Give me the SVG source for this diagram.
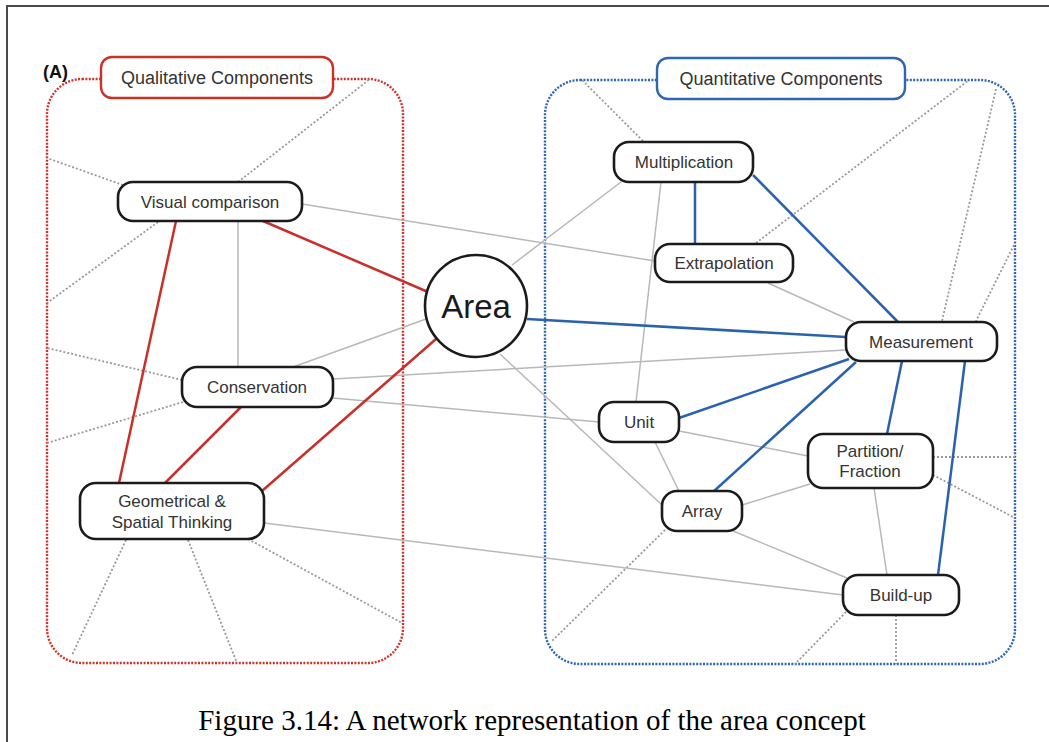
<svg xmlns="http://www.w3.org/2000/svg" width="1049" height="742" viewBox="0 0 1049 742">
  <style>
    .frame { stroke: #4a4a4a; stroke-width: 2; fill: none; }
    .cont-red { fill: none; stroke: #d0332c; stroke-width: 2.4; stroke-dasharray: 2 1.4; }
    .cont-blue { fill: none; stroke: #2d67b4; stroke-width: 2.4; stroke-dasharray: 2 1.4; }
    .head-red { fill: #fff; stroke: #cc3128; stroke-width: 2.4; }
    .head-blue { fill: #fff; stroke: #2d67b4; stroke-width: 2.4; }
    .node { fill: #fff; stroke: #1b1b1b; stroke-width: 2.6; }
    .lbl { font-family: "Liberation Sans", Arial, sans-serif; font-size: 17px; fill: #333; text-anchor: middle; }
    .head { font-family: "Liberation Sans", Arial, sans-serif; font-size: 18px; fill: #333; text-anchor: middle; }
    .red { stroke: #c8302a; stroke-width: 2.5; }
    .blue { stroke: #2a62ae; stroke-width: 2.5; }
    .gray { stroke: #b8b8b8; stroke-width: 1.5; }
    .dot { stroke: #9a9a9a; stroke-width: 1.8; stroke-dasharray: 2 2; }
  </style>

  <rect width="1049" height="742" fill="#fff"/>

  <!-- page frame -->
  <path class="frame" d="M7 742 V6 H1049"/>

  <text x="43" y="78" font-family="Liberation Sans, Arial, sans-serif" font-size="18" font-weight="bold" fill="#111">(A)</text>

  <!-- component containers -->
  <g id="qualitative-container">
    <rect class="cont-red" x="47" y="79" width="356" height="584" rx="35"/>
  </g>
  <g id="quantitative-container">
    <rect class="cont-blue" x="545" y="80" width="470" height="584" rx="35"/>
  </g>

  <g id="connectors" fill="none">
    <!-- outward links to the container edges -->
    <line class="dot" x1="238" y1="182" x2="370" y2="79"/>
    <line class="dot" x1="123" y1="185" x2="47" y2="158"/>
    <line class="dot" x1="158" y1="222" x2="47" y2="303"/>
    <line class="dot" x1="182" y1="380" x2="47" y2="348"/>
    <line class="dot" x1="183" y1="402" x2="47" y2="443"/>
    <line class="dot" x1="126" y1="540" x2="72" y2="655"/>
    <line class="dot" x1="188" y1="540" x2="237" y2="663"/>
    <line class="dot" x1="248" y1="539" x2="402" y2="623"/>
    <line class="dot" x1="643" y1="141" x2="582" y2="80"/>
    <line class="dot" x1="756" y1="243" x2="969" y2="80"/>
    <line class="dot" x1="996" y1="89" x2="942" y2="321"/>
    <line class="dot" x1="1014" y1="245" x2="976" y2="321"/>
    <line class="dot" x1="933" y1="457" x2="1015" y2="457"/>
    <line class="dot" x1="933" y1="475" x2="1015" y2="518"/>
    <line class="dot" x1="665" y1="530" x2="552" y2="641"/>
    <line class="dot" x1="846" y1="612" x2="795" y2="664"/>
    <line class="dot" x1="896" y1="615" x2="896" y2="664"/>

    <!-- weak links -->
    <line class="gray" x1="302" y1="204" x2="655" y2="261"/>
    <line class="gray" x1="238" y1="221" x2="238" y2="367"/>
    <line class="gray" x1="293" y1="367" x2="426" y2="319"/>
    <line class="gray" x1="333" y1="379" x2="846" y2="350"/>
    <line class="gray" x1="333" y1="398" x2="599" y2="422"/>
    <line class="gray" x1="264" y1="523" x2="843" y2="595"/>
    <line class="gray" x1="512" y1="265" x2="621" y2="182"/>
    <line class="gray" x1="500" y1="354" x2="662" y2="505"/>
    <line class="gray" x1="661" y1="182" x2="636" y2="402"/>
    <line class="gray" x1="768" y1="283" x2="854" y2="322"/>
    <line class="gray" x1="679" y1="431" x2="808" y2="456"/>
    <line class="gray" x1="655" y1="442" x2="679" y2="491"/>
    <line class="gray" x1="742" y1="505" x2="810" y2="484"/>
    <line class="gray" x1="733" y1="531" x2="847" y2="578"/>
    <line class="gray" x1="874" y1="488" x2="887" y2="575"/>

    <!-- qualitative links -->
    <line class="red" x1="263" y1="221" x2="428" y2="292"/>
    <line class="red" x1="176" y1="221" x2="119" y2="483"/>
    <line class="red" x1="241" y1="407" x2="165" y2="483"/>
    <line class="red" x1="436" y1="339" x2="262" y2="491"/>

    <!-- quantitative links -->
    <line class="blue" x1="695" y1="182" x2="695" y2="244"/>
    <line class="blue" x1="753" y1="175" x2="898" y2="322"/>
    <line class="blue" x1="527" y1="319" x2="846" y2="337"/>
    <line class="blue" x1="849" y1="359" x2="679" y2="418"/>
    <line class="blue" x1="856" y1="362" x2="713" y2="492"/>
    <line class="blue" x1="902" y1="361" x2="887" y2="434"/>
    <line class="blue" x1="965" y1="361" x2="938" y2="575"/>
  </g>

  <!-- headers -->
  <g id="qualitative-header">
    <rect class="head-red" x="101" y="57" width="232" height="41" rx="11"/>
    <text class="head" x="217" y="84">Qualitative Components</text>
  </g>
  <g id="quantitative-header">
    <rect class="head-blue" x="657" y="58" width="248" height="41" rx="11"/>
    <text class="head" x="781" y="85">Quantitative Components</text>
  </g>

  <!-- concept nodes -->
  <g id="area">
    <circle class="node" cx="476" cy="306" r="51"/>
    <text x="476" y="318" font-family="Liberation Sans, Arial, sans-serif" font-size="33" fill="#1a1a1a" text-anchor="middle">Area</text>
  </g>
  <g id="visual-comparison">
    <rect class="node" x="118" y="182" width="184" height="39" rx="15"/>
    <text class="lbl" x="210" y="208">Visual comparison</text>
  </g>
  <g id="conservation">
    <rect class="node" x="182" y="367" width="151" height="40" rx="15"/>
    <text class="lbl" x="257" y="393">Conservation</text>
  </g>
  <g id="geometrical-spatial">
    <rect class="node" x="80" y="483" width="184" height="56" rx="16"/>
    <text class="lbl" x="172" y="507">Geometrical &amp;</text>
    <text class="lbl" x="172" y="528">Spatial Thinking</text>
  </g>
  <g id="multiplication">
    <rect class="node" x="614" y="142" width="139" height="40" rx="15"/>
    <text class="lbl" x="684" y="168">Multiplication</text>
  </g>
  <g id="extrapolation">
    <rect class="node" x="655" y="244" width="138" height="38" rx="15"/>
    <text class="lbl" x="724" y="269">Extrapolation</text>
  </g>
  <g id="measurement">
    <rect class="node" x="846" y="322" width="151" height="39" rx="15"/>
    <text class="lbl" x="921" y="348">Measurement</text>
  </g>
  <g id="unit">
    <rect class="node" x="599" y="402" width="80" height="40" rx="15"/>
    <text class="lbl" x="639" y="428">Unit</text>
  </g>
  <g id="partition-fraction">
    <rect class="node" x="808" y="434" width="125" height="54" rx="15"/>
    <text class="lbl" x="870" y="457">Partition/</text>
    <text class="lbl" x="870" y="477">Fraction</text>
  </g>
  <g id="array">
    <rect class="node" x="662" y="491" width="80" height="40" rx="15"/>
    <text class="lbl" x="702" y="517">Array</text>
  </g>
  <g id="build-up">
    <rect class="node" x="843" y="575" width="116" height="40" rx="15"/>
    <text class="lbl" x="901" y="601">Build-up</text>
  </g>

  <text x="532" y="730" font-family="Liberation Serif, 'Times New Roman', serif" font-size="29" fill="#000" text-anchor="middle">Figure 3.14: A network representation of the area concept</text>
</svg>
